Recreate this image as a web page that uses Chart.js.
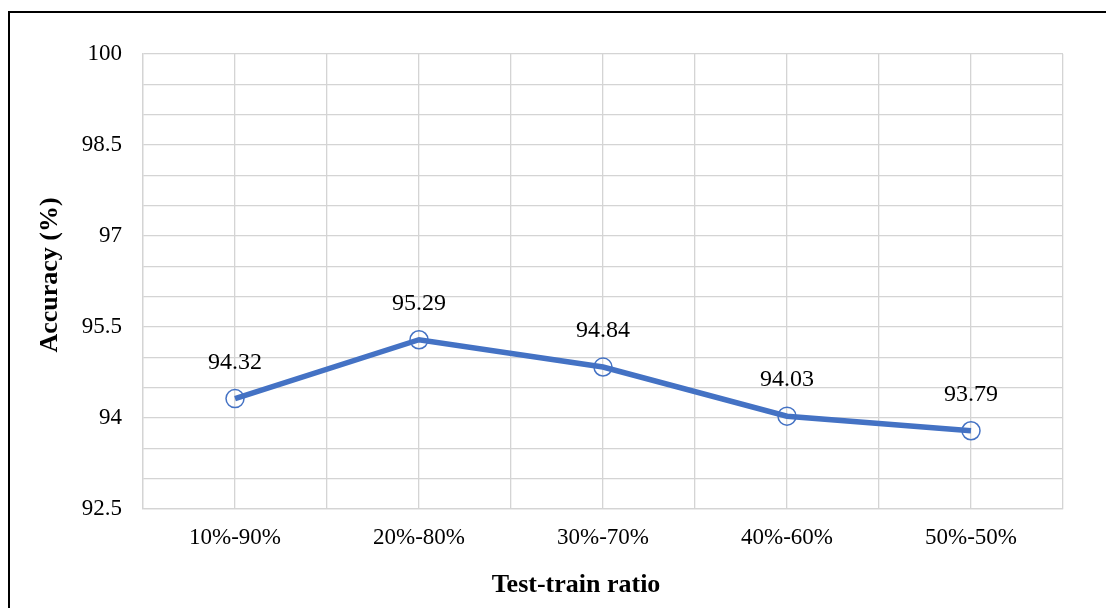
<!DOCTYPE html>
<html>
<head>
<meta charset="utf-8">
<script src="https://cdn.jsdelivr.net/npm/chart.js@4.4.1/dist/chart.umd.min.js"></script>
<style>
    html, body { margin: 0; padding: 0; background: #fff; overflow: hidden; }
    #wrap { position: relative; width: 1106px; height: 608px; }
    #frame { position: absolute; left: 8px; top: 11px; width: 1200px; height: 700px; border: 2px solid #000; pointer-events: none; }
</style>
</head>
<body>
<div id="wrap">
    <canvas id="accChart" width="1106" height="608"></canvas>
    <div id="frame"></div>
</div>
<script>
const categories = ['10%-90%', '20%-80%', '30%-70%', '40%-60%', '50%-50%'];
const accuracy = [94.32, 95.29, 94.84, 94.03, 93.79];
const yLabels = [92.5, 94, 95.5, 97, 98.5, 100];
const xTitle = 'Test-train ratio';
const yTitle = 'Accuracy (%)';

const serif = "'Liberation Serif', 'Times New Roman', serif";

// etiquetas de valor y titulos de ejes (como en Excel, centrados en el grafico)
const extras = {
    id: 'extras',
    afterDatasetsDraw(chart) {
        const ctx = chart.ctx;
        const meta = chart.getDatasetMeta(0);
        ctx.save();
        ctx.fillStyle = '#000';
        ctx.textAlign = 'center';

        ctx.font = '24px ' + serif;
        ctx.textBaseline = 'alphabetic';
        meta.data.forEach((pt, i) => {
            ctx.fillText(accuracy[i].toFixed(2), pt.x, pt.y - 30);
        });

        ctx.font = 'bold 26px ' + serif;
        ctx.textBaseline = 'middle';
        ctx.fillText(xTitle, 576, 585);

        ctx.translate(50, 275);
        ctx.rotate(-Math.PI / 2);
        ctx.fillText(yTitle, 0, 0);
        ctx.restore();
    }
};

const ctx = document.getElementById('accChart').getContext('2d');
new Chart(ctx, {
    type: 'line',
    data: {
        datasets: [{
            data: accuracy.map((v, i) => ({ x: i, y: v })),
            borderColor: '#4472C4',
            borderWidth: 5.5,
            pointRadius: 9,
            pointBorderWidth: 1.5,
            pointBorderColor: '#4472C4',
            pointBackgroundColor: 'rgba(0,0,0,0)',
            tension: 0
        }]
    },
    options: {
        responsive: false,
        animation: false,
        layout: { padding: { top: 54, right: 43, left: 0, bottom: 0 } },
        plugins: { legend: { display: false }, tooltip: { enabled: false } },
        scales: {
            x: {
                type: 'linear',
                min: -0.5,
                max: 4.5,
                afterFit: s => { s.height = 99; },
                grid: { color: '#d4d4d4', lineWidth: 1.3, drawTicks: false },
                border: { color: '#d4d4d4', width: 1.3 },
                ticks: {
                    stepSize: 0.5,
                    autoSkip: false,
                    maxRotation: 0,
                    padding: 15,
                    color: '#000',
                    font: { family: serif, size: 23 },
                    callback: v => Number.isInteger(v) ? categories[v] : ''
                }
            },
            y: {
                min: 92.5,
                max: 100,
                afterFit: s => { s.width = 143; },
                grid: { color: '#d4d4d4', lineWidth: 1.3, drawTicks: false },
                border: { color: '#d4d4d4', width: 1.3 },
                ticks: {
                    stepSize: 0.5,
                    autoSkip: false,
                    padding: 21,
                    color: '#000',
                    font: { family: serif, size: 23 },
                    callback: v => yLabels.includes(v) ? String(v) : ''
                }
            }
        }
    },
    plugins: [extras]
});
</script>
</body>
</html>
